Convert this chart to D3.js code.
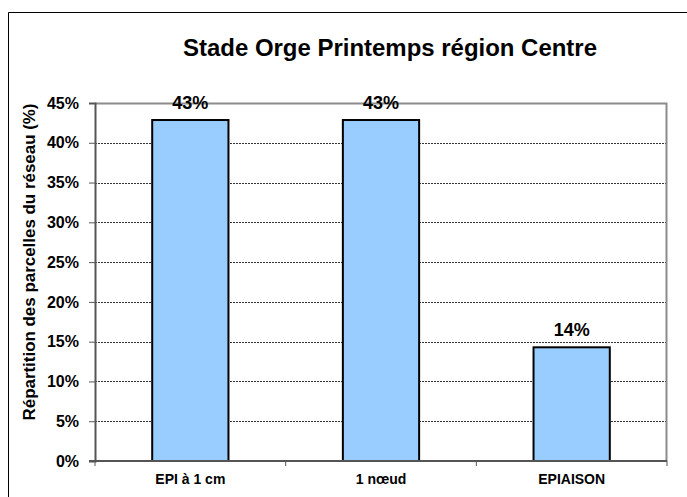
<!DOCTYPE html>
<html>
<head>
<meta charset="utf-8">
<script src="https://cdn.jsdelivr.net/npm/d3@7"></script>
<style>
  body { margin: 0; background: #fff; }
  svg { display: block; font-family: "Liberation Sans", Arial, sans-serif; }
</style>
</head>
<body>
<svg id="chart" width="687" height="497"></svg>
<script>
// data
const categories = ['EPI à 1 cm', '1 nœud', 'EPIAISON']
const values = [42.86, 42.86, 14.29]
const yTicks = [0, 5, 10, 15, 20, 25, 30, 35, 40, 45]

const titleText = 'Stade Orge Printemps région Centre'
const yTitle = 'Répartition des parcelles du réseau (%)'

const svg = d3.select('#chart')
const W = 687, H = 497
const margin = { top: 103, right: 20, bottom: 36, left: 95 }
const plotW = 667 - margin.left
const plotH = 461 - margin.top

// outer frame (only left + top visible)
svg.append('path')
  .attr('d', `M8.5,${H} V12.5 H${W}`)
  .attr('fill', 'none')
  .attr('stroke', '#000')
  .attr('stroke-width', 1)

svg.append('text')
  .attr('x', 390).attr('y', 56)
  .attr('text-anchor', 'middle')
  .attr('font-size', 23).attr('font-weight', 'bold')
  .attr('textLength', 414).attr('lengthAdjust', 'spacingAndGlyphs')
  .text(titleText)

const g = svg.append('g').attr('transform', `translate(${margin.left},${margin.top})`)

const x = d3.scaleBand().domain(categories).range([0, plotW]).paddingInner(0).paddingOuter(0)
const y = d3.scaleLinear().domain([0, 45]).range([plotH, 0])

// dashed gridlines
g.append('g').selectAll('line')
  .data(yTicks.filter(d => d > 0 && d < 45))
  .join('line')
  .attr('x1', 0).attr('x2', plotW)
  .attr('y1', d => Math.round(y(d)) + 0.5).attr('y2', d => Math.round(y(d)) + 0.5)
  .attr('stroke', '#000').attr('stroke-width', 0.8)
  .attr('stroke-dasharray', '2,1')

// plot frame top + right (gray)
g.append('path')
  .attr('d', `M0,0.5 H${plotW - 0.5} V${plotH}`)
  .attr('fill', 'none')
  .attr('stroke', '#8c8c8c')
  .attr('stroke-width', 2)

// bars
const barW = x.bandwidth() * 0.4
g.append('g').selectAll('rect')
  .data(values)
  .join('rect')
  .attr('x', (d, i) => x(categories[i]) + (x.bandwidth() - barW) / 2)
  .attr('y', d => y(d))
  .attr('width', barW)
  .attr('height', d => plotH - y(d))
  .attr('fill', '#99ccff')
  .attr('stroke', '#000')
  .attr('stroke-width', 2)

// value labels
g.append('g').selectAll('text')
  .data(values)
  .join('text')
  .attr('x', (d, i) => x(categories[i]) + x.bandwidth() / 2)
  .attr('y', d => y(d) - 11)
  .attr('text-anchor', 'middle')
  .attr('font-size', 18).attr('font-weight', 'bold')
  .text(d => Math.round(d) + '%')

// y axis
const yAxis = g.append('g')
  .call(d3.axisLeft(y).tickValues(yTicks).tickSize(6).tickPadding(10).tickFormat(d => d + '%'))
yAxis.select('.domain').attr('stroke', '#555').attr('stroke-width', 2)
yAxis.selectAll('.tick line').attr('stroke', '#555')
yAxis.selectAll('text')
  .attr('font-size', 16).attr('font-weight', 'bold')
  .attr('font-family', '"Liberation Sans", Arial, sans-serif')
  .attr('fill', '#000')

// x axis: ticks at band boundaries
const xg = g.append('g').attr('transform', `translate(0,${plotH})`)
xg.append('line')
  .attr('x1', -6).attr('x2', plotW)
  .attr('stroke', '#555').attr('stroke-width', 2)
xg.selectAll('.xtick')
  .data(categories.map(c => x(c)).concat([plotW]))
  .join('line')
  .attr('class', 'xtick')
  .attr('x1', d => d).attr('x2', d => d)
  .attr('y1', 0).attr('y2', 5)
  .attr('stroke', '#555')
xg.selectAll('text')
  .data(categories)
  .join('text')
  .attr('x', d => x(d) + x.bandwidth() / 2)
  .attr('y', 23)
  .attr('text-anchor', 'middle')
  .attr('font-size', 14).attr('font-weight', 'bold')
  .text(d => d)

// y axis title
svg.append('text')
  .attr('transform', 'translate(35,262) rotate(-90)')
  .attr('text-anchor', 'middle')
  .attr('font-size', 16).attr('font-weight', 'bold')
  .attr('textLength', 317).attr('lengthAdjust', 'spacingAndGlyphs')
  .text(yTitle)
</script>
</body>
</html>
